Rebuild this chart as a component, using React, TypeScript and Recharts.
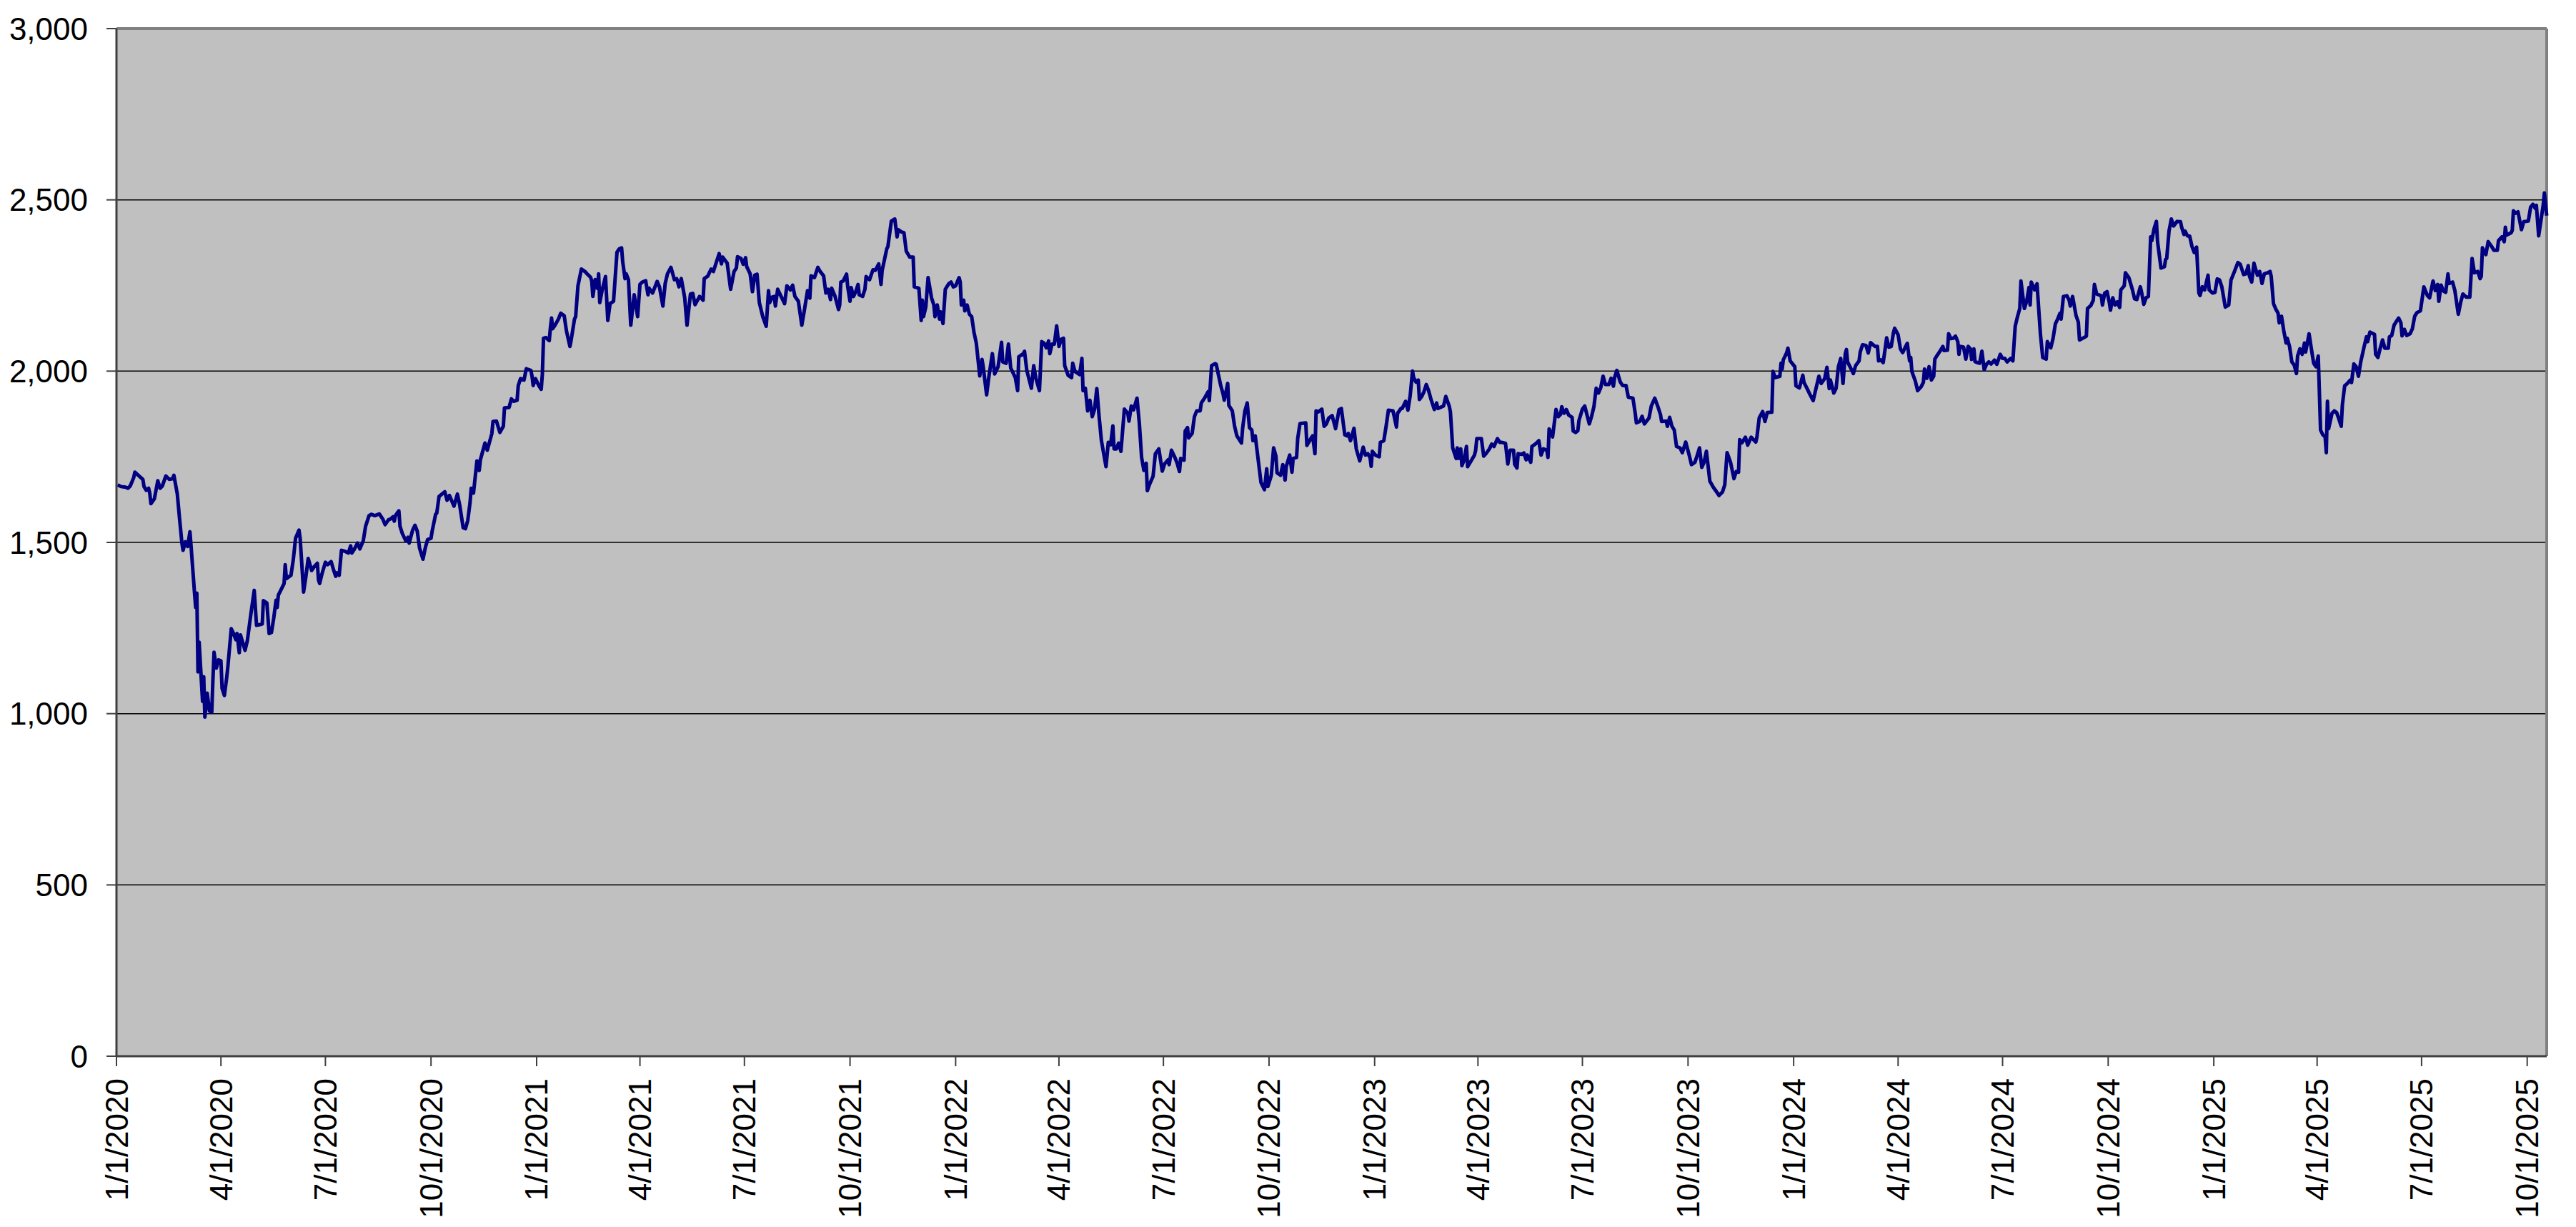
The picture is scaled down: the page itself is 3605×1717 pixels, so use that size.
import React from 'react';
import { LineChart, Line, XAxis, YAxis, CartesianGrid, ReferenceLine } from 'recharts';

// [days since 1/1/2020, index close], one list per year
const y2020: [number, number][] = [
  [1, 1668], [4, 1663], [8, 1661], [10, 1658], [12, 1665], [15, 1689], [16, 1705], [19, 1696], [23, 1684], [24, 1663],
  [26, 1652], [28, 1658], [29, 1644], [30, 1613], [33, 1627], [36, 1680], [38, 1658], [40, 1665], [43, 1694], [46, 1684],
  [49, 1686], [50, 1696], [53, 1641], [55, 1568], [57, 1498], [58, 1477], [60, 1502], [62, 1488], [64, 1531], [65, 1488],
  [68, 1352], [69, 1310], [70, 1352], [71, 1122], [72, 1209], [75, 1036], [76, 1108], [77, 990], [79, 1060], [81, 1008],
  [83, 1004], [84, 1098], [85, 1179], [87, 1133], [89, 1157], [91, 1154], [92, 1074], [94, 1053], [96, 1105], [97, 1136],
  [100, 1248], [102, 1234], [104, 1216], [105, 1234], [107, 1178], [108, 1230], [112, 1185], [114, 1213], [117, 1289], [120, 1360],
  [122, 1258], [125, 1260], [127, 1262], [128, 1330], [131, 1323], [133, 1234], [135, 1237], [137, 1279], [139, 1331], [140, 1310],
  [141, 1346], [146, 1380], [147, 1435], [148, 1394], [152, 1404], [154, 1449], [156, 1512], [159, 1536], [160, 1512], [163, 1355],
  [165, 1400], [167, 1453], [170, 1418], [172, 1428], [175, 1439], [176, 1390], [177, 1380], [179, 1408], [182, 1442], [184, 1435],
  [187, 1444], [189, 1421], [191, 1401], [192, 1411], [194, 1404], [196, 1477], [199, 1474], [202, 1469], [204, 1490], [205, 1469],
  [207, 1479], [210, 1498], [212, 1481], [215, 1505], [217, 1547], [220, 1578], [222, 1582], [225, 1578], [229, 1583], [230, 1578],
  [232, 1568], [234, 1552], [237, 1566], [239, 1569], [241, 1575], [242, 1562], [243, 1578], [245, 1588], [246, 1592], [247, 1547],
  [249, 1526], [252, 1505], [254, 1515], [255, 1498], [258, 1536], [260, 1550], [262, 1533], [264, 1484], [267, 1451], [269, 1484],
  [271, 1508], [274, 1512], [275, 1533], [278, 1582], [279, 1585], [281, 1634], [286, 1648], [288, 1623], [290, 1637], [294, 1606],
  [297, 1641], [299, 1609], [302, 1543], [304, 1540], [306, 1564], [308, 1616], [309, 1658], [311, 1644], [314, 1738], [316, 1710],
  [317, 1741], [321, 1790], [323, 1769], [327, 1818], [328, 1853], [331, 1854], [334, 1821], [337, 1839], [338, 1893], [342, 1894],
  [344, 1919], [346, 1912], [349, 1915], [350, 1958], [352, 1978], [355, 1974], [357, 2007], [361, 2002], [362, 1985], [363, 1958],
  [365, 1978],
];

const y2021: [number, number][] = [
  [368, 1957], [370, 1947], [371, 1992], [372, 2096], [374, 2098], [377, 2089], [378, 2127], [379, 2155], [380, 2124], [382, 2134],
  [385, 2152], [387, 2169], [390, 2162], [392, 2117], [395, 2072], [396, 2089], [399, 2152], [400, 2159], [402, 2249], [405, 2298],
  [408, 2291], [410, 2284], [413, 2274], [414, 2263], [415, 2218], [417, 2267], [419, 2242], [420, 2284], [421, 2200], [423, 2235],
  [426, 2276], [428, 2148], [430, 2197], [433, 2204], [436, 2347], [438, 2357], [440, 2360], [441, 2319], [443, 2270], [444, 2284],
  [446, 2267], [448, 2134], [451, 2223], [454, 2159], [456, 2253], [458, 2260], [461, 2264], [463, 2223], [464, 2242], [467, 2228],
  [471, 2262], [473, 2246], [476, 2190], [478, 2256], [480, 2284], [483, 2303], [486, 2267], [488, 2270], [490, 2246], [492, 2270],
  [495, 2214], [497, 2134], [500, 2225], [502, 2227], [504, 2194], [508, 2218], [511, 2207], [512, 2270], [515, 2277], [518, 2298],
  [520, 2291], [522, 2312], [525, 2343], [527, 2313], [528, 2333], [532, 2315], [535, 2239], [538, 2291], [540, 2301], [541, 2334],
  [544, 2329], [546, 2312], [548, 2331], [549, 2305], [552, 2284], [554, 2232], [556, 2280], [558, 2283], [560, 2200], [563, 2159],
  [566, 2131], [568, 2235], [569, 2200], [571, 2216], [573, 2218], [574, 2190], [576, 2239], [579, 2218], [582, 2197], [584, 2249],
  [587, 2237], [589, 2251], [591, 2218], [594, 2204], [597, 2134], [599, 2173], [602, 2235], [604, 2213], [605, 2278], [608, 2273],
  [611, 2303], [613, 2291], [616, 2278], [617, 2253], [618, 2228], [620, 2239], [622, 2209], [623, 2242], [626, 2218], [629, 2180],
  [630, 2193], [631, 2260], [633, 2263], [636, 2283], [637, 2246], [639, 2204], [640, 2244], [642, 2218], [644, 2232], [646, 2253],
  [647, 2223], [650, 2218], [652, 2239], [653, 2276], [656, 2267], [659, 2296], [661, 2294], [664, 2313], [666, 2253], [667, 2294],
  [671, 2357], [672, 2364], [675, 2438], [677, 2442], [678, 2444], [680, 2392], [681, 2413], [684, 2406], [686, 2404], [688, 2350],
  [691, 2333], [694, 2333], [695, 2246], [699, 2242], [701, 2148], [702, 2207], [703, 2159], [705, 2187], [707, 2273], [710, 2214],
  [712, 2193], [713, 2159], [715, 2193], [717, 2152], [718, 2173], [720, 2139], [722, 2239], [725, 2255], [727, 2260], [729, 2246],
];

const y2022: [number, number][] = [
  [731, 2249], [734, 2273], [735, 2260], [736, 2193], [738, 2207], [739, 2176], [741, 2193], [743, 2166], [745, 2159], [747, 2113],
  [749, 2082], [752, 1986], [754, 2034], [755, 2013], [758, 1931], [760, 1985], [763, 2051], [765, 1992], [768, 2013], [771, 2084],
  [772, 2027], [775, 2023], [777, 2079], [779, 2009], [783, 1981], [785, 1943], [786, 2042], [790, 2051], [791, 2058], [793, 2002],
  [797, 1950], [799, 2016], [801, 1978], [804, 1943], [806, 2086], [808, 2082], [810, 2068], [812, 2088], [813, 2051], [815, 2079],
  [817, 2079], [819, 2132], [821, 2072], [823, 2093], [825, 2096], [826, 2016], [829, 1988], [832, 1981], [833, 2023], [835, 1999],
  [839, 1990], [841, 2037], [842, 1943], [844, 1950], [846, 1884], [848, 1915], [850, 1867], [852, 1888], [854, 1949], [856, 1867],
  [858, 1797], [860, 1759], [862, 1721], [864, 1792], [866, 1785], [868, 1840], [869, 1773], [871, 1773], [873, 1790], [875, 1766],
  [878, 1889], [881, 1877], [882, 1854], [884, 1898], [886, 1887], [889, 1921], [891, 1849], [893, 1748], [895, 1710], [897, 1731],
  [898, 1651], [900, 1670], [903, 1693], [905, 1759], [908, 1773], [911, 1708], [913, 1729], [916, 1741], [917, 1727], [919, 1769],
  [922, 1748], [924, 1731], [926, 1707], [927, 1745], [930, 1740], [931, 1825], [933, 1835], [934, 1805], [937, 1818], [939, 1867],
  [941, 1884], [944, 1884], [945, 1907], [948, 1922], [951, 1940], [952, 1914], [953, 1967], [954, 2016], [957, 2022], [958, 2020],
  [960, 1988], [962, 1957], [964, 1933], [965, 1915], [968, 1964], [969, 1900], [972, 1884], [974, 1839], [976, 1811], [980, 1790],
  [981, 1833], [983, 1884], [985, 1907], [987, 1835], [989, 1828], [990, 1797], [992, 1811], [997, 1675], [1000, 1654], [1002, 1715],
  [1003, 1663], [1006, 1696], [1008, 1776], [1010, 1752], [1011, 1703], [1014, 1696], [1016, 1727], [1018, 1682], [1019, 1721], [1022, 1755],
  [1024, 1705], [1025, 1745], [1028, 1748], [1029, 1804], [1031, 1847], [1036, 1849], [1037, 1783], [1040, 1801], [1042, 1811], [1044, 1759],
  [1045, 1884], [1047, 1881], [1050, 1889], [1052, 1839], [1054, 1846], [1056, 1863], [1059, 1870], [1062, 1832], [1065, 1887], [1067, 1891],
  [1070, 1814], [1072, 1811], [1073, 1818], [1075, 1797], [1078, 1833], [1080, 1773], [1083, 1738], [1086, 1778], [1088, 1755], [1090, 1759],
  [1092, 1748], [1093, 1722], [1094, 1766],
];

const y2023: [number, number][] = [
  [1097, 1754], [1100, 1750], [1101, 1792], [1104, 1797], [1106, 1839], [1108, 1886], [1112, 1884], [1115, 1837], [1116, 1877], [1119, 1891],
  [1120, 1891], [1123, 1912], [1125, 1886], [1127, 1929], [1129, 2000], [1130, 1981], [1132, 1968], [1134, 1974], [1135, 1917], [1137, 1926],
  [1139, 1940], [1141, 1961], [1143, 1943], [1145, 1919], [1148, 1888], [1150, 1907], [1151, 1891], [1156, 1898], [1158, 1926], [1161, 1898],
  [1162, 1881], [1164, 1776], [1167, 1745], [1168, 1776], [1169, 1745], [1171, 1773], [1172, 1724], [1174, 1741], [1176, 1780], [1177, 1721],
  [1180, 1738], [1183, 1755], [1184, 1769], [1185, 1803], [1189, 1803], [1191, 1752], [1193, 1759], [1196, 1773], [1198, 1787], [1200, 1780],
  [1203, 1803], [1205, 1792], [1207, 1792], [1210, 1789], [1212, 1729], [1214, 1769], [1217, 1769], [1218, 1728], [1220, 1717], [1221, 1759],
  [1224, 1757], [1226, 1761], [1228, 1741], [1229, 1755], [1232, 1734], [1233, 1780], [1235, 1785], [1237, 1790], [1239, 1797], [1241, 1755],
  [1243, 1773], [1246, 1769], [1247, 1748], [1248, 1831], [1251, 1808], [1254, 1888], [1256, 1867], [1258, 1874], [1259, 1896], [1261, 1877],
  [1263, 1888], [1265, 1872], [1268, 1865], [1269, 1825], [1271, 1821], [1273, 1826], [1274, 1856], [1277, 1889], [1279, 1898], [1283, 1846],
  [1285, 1868], [1287, 1896], [1289, 1950], [1291, 1936], [1293, 1952], [1295, 1985], [1297, 1961], [1300, 1961], [1302, 1979], [1304, 1956],
  [1305, 1981], [1307, 2002], [1310, 1968], [1312, 1958], [1315, 1958], [1317, 1924], [1321, 1921], [1323, 1877], [1324, 1849], [1327, 1853],
  [1329, 1868], [1331, 1846], [1335, 1863], [1337, 1898], [1340, 1921], [1343, 1894], [1345, 1873], [1346, 1853], [1350, 1854], [1351, 1839],
  [1353, 1865], [1355, 1839], [1357, 1828], [1359, 1780], [1362, 1776], [1364, 1762], [1367, 1793], [1370, 1755], [1372, 1727], [1375, 1734],
  [1377, 1754], [1379, 1776], [1381, 1719], [1383, 1734], [1385, 1766], [1388, 1679], [1391, 1661], [1394, 1647], [1396, 1637], [1399, 1647],
  [1401, 1668], [1403, 1762], [1406, 1734], [1409, 1686], [1411, 1707], [1413, 1705], [1414, 1800], [1416, 1791], [1419, 1807], [1421, 1784],
  [1424, 1807], [1428, 1793], [1429, 1807], [1431, 1863], [1434, 1882], [1436, 1853], [1438, 1879], [1442, 1880], [1443, 1999], [1445, 1981],
  [1449, 1985], [1450, 2023], [1451, 2006], [1452, 2033], [1455, 2054], [1456, 2067], [1458, 2030],
];

const y2024: [number, number][] = [
  [1462, 2013], [1463, 1957], [1466, 1951], [1469, 1988], [1470, 1967], [1473, 1947], [1475, 1933], [1478, 1914], [1481, 1957], [1483, 1985],
  [1485, 1964], [1488, 1978], [1490, 2011], [1492, 1949], [1493, 1974], [1496, 1936], [1498, 1950], [1500, 2013], [1502, 2037], [1504, 1964],
  [1506, 2051], [1507, 2063], [1508, 2027], [1513, 1993], [1515, 2016], [1518, 2030], [1519, 2056], [1521, 2077], [1524, 2075], [1526, 2053],
  [1528, 2083], [1532, 2072], [1534, 2072], [1535, 2030], [1537, 2033], [1539, 2025], [1541, 2072], [1542, 2097], [1544, 2070], [1546, 2072],
  [1548, 2113], [1549, 2125], [1552, 2106], [1554, 2065], [1556, 2054], [1558, 2068], [1560, 2081], [1562, 2030], [1563, 2040], [1564, 1999],
  [1567, 1971], [1569, 1943], [1572, 1954], [1574, 1967], [1575, 2006], [1577, 1979], [1579, 2013], [1581, 1974], [1583, 1985], [1584, 2035],
  [1586, 2046], [1589, 2061], [1591, 2072], [1592, 2060], [1595, 2061], [1596, 2109], [1598, 2095], [1600, 2096], [1602, 2102], [1604, 2086],
  [1605, 2049], [1606, 2072], [1609, 2070], [1611, 2035], [1613, 2072], [1615, 2065], [1616, 2034], [1618, 2065], [1619, 2028], [1621, 2025],
  [1623, 2023], [1625, 2058], [1627, 2004], [1629, 2020], [1631, 2027], [1633, 2021], [1636, 2032], [1638, 2020], [1641, 2049], [1643, 2037],
  [1645, 2037], [1647, 2027], [1650, 2037], [1652, 2030], [1654, 2131], [1656, 2159], [1658, 2183], [1659, 2263], [1662, 2183], [1664, 2204],
  [1666, 2244], [1667, 2193], [1668, 2260], [1671, 2237], [1673, 2255], [1676, 2107], [1678, 2040], [1681, 2035], [1682, 2086], [1685, 2068],
  [1687, 2096], [1689, 2138], [1691, 2152], [1693, 2169], [1694, 2152], [1696, 2218], [1699, 2220], [1701, 2207], [1702, 2190], [1704, 2218],
  [1707, 2162], [1709, 2143], [1710, 2091], [1714, 2098], [1716, 2102], [1717, 2183], [1720, 2192], [1722, 2207], [1723, 2253], [1725, 2225],
  [1729, 2220], [1730, 2193], [1732, 2228], [1734, 2232], [1736, 2200], [1737, 2178], [1739, 2214], [1741, 2193], [1743, 2202], [1745, 2186],
  [1746, 2237], [1749, 2249], [1750, 2287], [1753, 2273], [1756, 2239], [1758, 2211], [1760, 2209], [1763, 2246], [1764, 2232], [1766, 2195],
  [1768, 2214], [1770, 2218], [1772, 2392], [1773, 2381], [1775, 2416], [1777, 2437], [1778, 2378], [1781, 2301], [1784, 2305], [1785, 2326],
  [1786, 2329], [1788, 2409], [1790, 2444], [1792, 2424], [1795, 2437], [1798, 2436], [1799, 2420], [1801, 2399], [1802, 2409], [1804, 2395],
  [1806, 2394], [1808, 2364], [1810, 2346], [1812, 2362], [1814, 2228], [1815, 2221], [1817, 2246], [1819, 2237], [1822, 2280], [1823, 2237],
  [1826, 2228],
];

const y2025: [number, number][] = [
  [1828, 2230], [1830, 2269], [1832, 2266], [1834, 2246], [1837, 2187], [1840, 2193], [1842, 2266], [1845, 2291], [1848, 2317], [1850, 2312],
  [1853, 2282], [1855, 2284], [1857, 2308], [1858, 2278], [1860, 2260], [1862, 2315], [1865, 2280], [1867, 2291], [1869, 2256], [1871, 2284],
  [1874, 2287], [1876, 2291], [1877, 2277], [1879, 2197], [1881, 2181], [1883, 2169], [1884, 2141], [1886, 2160], [1888, 2117], [1890, 2082],
  [1891, 2096], [1893, 2072], [1895, 2027], [1897, 2018], [1899, 1993], [1900, 2044], [1902, 2065], [1904, 2049], [1906, 2082], [1907, 2056],
  [1910, 2109], [1912, 2065], [1914, 2023], [1916, 2013], [1918, 2044], [1920, 1828], [1922, 1814], [1924, 1808], [1925, 1762], [1926, 1912],
  [1927, 1832], [1930, 1877], [1932, 1884], [1934, 1879], [1936, 1860], [1938, 1839], [1939, 1901], [1941, 1957], [1943, 1963], [1946, 1974],
  [1947, 1967], [1949, 2021], [1951, 2013], [1953, 1985], [1955, 2027], [1958, 2072], [1960, 2100], [1961, 2086], [1963, 2114], [1967, 2107],
  [1968, 2049], [1970, 2040], [1972, 2067], [1974, 2091], [1976, 2067], [1979, 2067], [1980, 2100], [1982, 2104], [1984, 2134], [1986, 2145],
  [1988, 2155], [1990, 2141], [1991, 2103], [1993, 2122], [1995, 2104], [1998, 2109], [2000, 2124], [2002, 2160], [2004, 2171], [2007, 2176],
  [2010, 2246], [2013, 2221], [2015, 2214], [2018, 2263], [2020, 2235], [2022, 2253], [2023, 2204], [2025, 2251], [2027, 2234], [2029, 2230],
  [2031, 2284], [2032, 2256], [2035, 2260], [2037, 2235], [2040, 2166], [2042, 2200], [2044, 2225], [2047, 2216], [2050, 2216], [2052, 2329],
  [2054, 2287], [2057, 2291], [2059, 2270], [2060, 2277], [2061, 2360], [2064, 2340], [2066, 2378], [2069, 2364], [2071, 2353], [2074, 2353],
  [2075, 2381], [2078, 2392], [2080, 2378], [2081, 2420], [2082, 2397], [2086, 2404], [2087, 2411], [2088, 2468], [2090, 2461], [2092, 2465],
  [2095, 2413], [2097, 2436], [2101, 2438], [2103, 2479], [2105, 2487], [2107, 2475], [2108, 2484], [2110, 2395], [2112, 2440], [2114, 2486],
  [2115, 2520], [2117, 2454],
];

// quarter starts, as days since 1/1/2020
const tickDays = [0, 91, 182, 274, 366, 456, 547, 639, 731, 821, 912, 1004, 1096, 1186, 1277, 1369, 1461, 1552, 1643, 1735, 1827, 1917, 2008, 2100];
const tickLabels = [
  '1/1/2020', '4/1/2020', '7/1/2020', '10/1/2020',
  '1/1/2021', '4/1/2021', '7/1/2021', '10/1/2021',
  '1/1/2022', '4/1/2022', '7/1/2022', '10/1/2022',
  '1/1/2023', '4/1/2023', '7/1/2023', '10/1/2023',
  '1/1/2024', '4/1/2024', '7/1/2024', '10/1/2024',
  '1/1/2025', '4/1/2025', '7/1/2025', '10/1/2025',
];
const valueTicks = [0, 500, 1000, 1500, 2000, 2500, 3000];
const lastDay = 2117;

const data = [...y2020, ...y2021, ...y2022, ...y2023, ...y2024, ...y2025].map(([day, close]) => ({ day, close }));

const FONT = '"Liberation Sans", Arial, sans-serif';

const DateTick = (props: any) => {
  const { x, y, payload } = props;
  const label = tickLabels[tickDays.indexOf(payload.value)];
  return (
    <text
      x={x}
      y={y}
      transform={`rotate(-90 ${x} ${y})`}
      textAnchor="end"
      dominantBaseline="central"
      fontSize={44}
      fontFamily={FONT}
      fill="#000"
    >
      {label}
    </text>
  );
};

export default function App() {
  return (
    <div style={{ position: 'absolute', left: 0, top: 0, background: '#fff' }}>
      <LineChart width={3605} height={1717} data={data} margin={{ top: 40, right: 41, bottom: 0, left: 0 }}>
        <CartesianGrid vertical={false} stroke="#000" strokeWidth={1.5} fill="#C0C0C0" fillOpacity={1} />
        <XAxis
          type="number"
          dataKey="day"
          domain={[0, lastDay]}
          ticks={tickDays}
          interval={0}
          height={239}
          tick={<DateTick />}
          tickSize={14}
          tickMargin={17}
          axisLine={{ stroke: '#404040', strokeWidth: 3 }}
          tickLine={{ stroke: '#404040', strokeWidth: 2 }}
        />
        <YAxis
          type="number"
          domain={[0, 3000]}
          ticks={valueTicks}
          interval={0}
          width={163}
          tickSize={14}
          tickMargin={26}
          tickFormatter={(v: number) => v.toLocaleString('en-US')}
          tick={{ fontSize: 44, fill: '#000', fontFamily: FONT }}
          axisLine={{ stroke: '#404040', strokeWidth: 3 }}
          tickLine={{ stroke: '#404040', strokeWidth: 2 }}
        />
        <ReferenceLine y={3000} stroke="#808080" strokeWidth={4} />
        <ReferenceLine x={lastDay} stroke="#808080" strokeWidth={4} />
        <Line
          type="linear"
          dataKey="close"
          stroke="#000080"
          strokeWidth={5}
          strokeLinejoin="round"
          dot={false}
          isAnimationActive={false}
        />
      </LineChart>
    </div>
  );
}
